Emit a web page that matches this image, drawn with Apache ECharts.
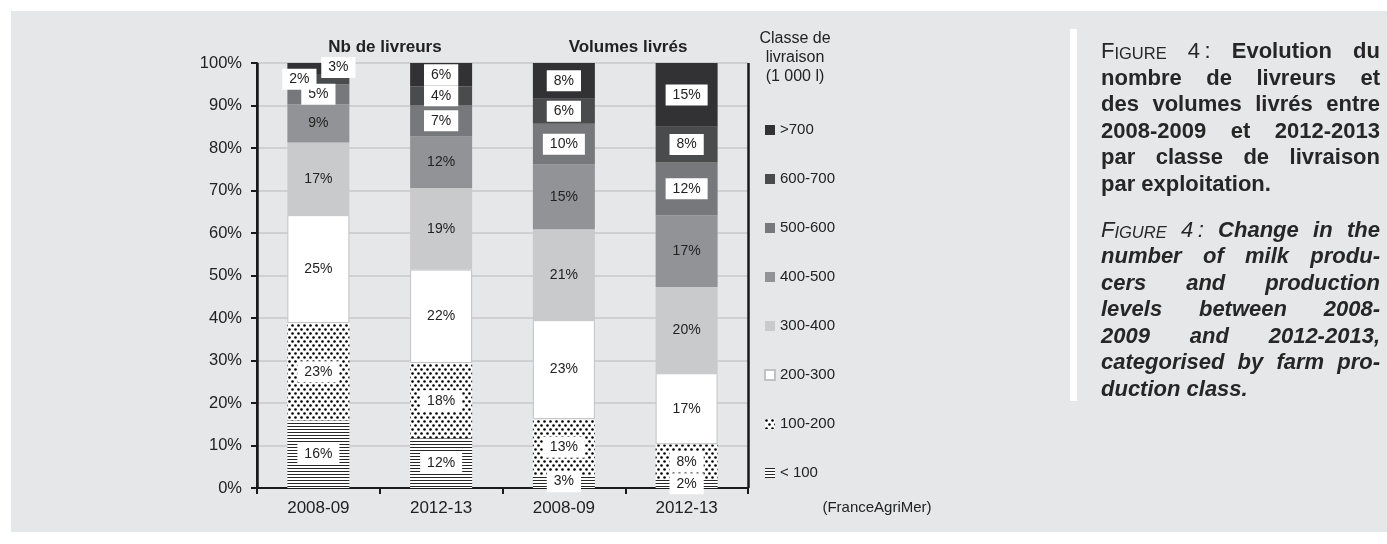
<!DOCTYPE html>
<html><head><meta charset="utf-8">
<script src="https://cdn.jsdelivr.net/npm/echarts@6/dist/echarts.min.js"></script>
<style>html,body{margin:0;padding:0;background:#fff;}#c{width:1387px;height:544px;}</style>
</head><body><div id="c"></div>
<script>
// ---- data ----
const categories = ['2008-09', '2012-13', '2008-09', '2012-13'];
const panelTitles = ['Nb de livreurs', 'Volumes livrés'];
const classes = ['< 100', '100-200', '200-300', '300-400', '400-500', '500-600', '600-700', '>700'];
const lt100    = [15.9, 11.7, 3.0, 2.0];
const c100_200 = [22.9, 17.7, 13.2, 8.3];
const c200_300 = [25.4, 22.0, 23.3, 16.7];
const c300_400 = [17.1, 19.2, 21.4, 20.3];
const c400_500 = [9.0, 12.1, 15.2, 16.9];
const c500_600 = [4.7, 7.4, 9.6, 12.4];
const c600_700 = [2.4, 4.4, 5.9, 8.4];
const gt700    = [2.6, 5.5, 8.4, 15.0];
const legendTitle = ['Classe de', 'livraison', '(1 000 l)'];
const source = '(FranceAgriMer)';

const FF = '"Liberation Sans", Arial, Helvetica, sans-serif';

function stripes() {
  const c = document.createElement('canvas'); c.width = 4; c.height = 3;
  const g = c.getContext('2d');
  g.fillStyle = '#ffffff'; g.fillRect(0, 0, 4, 3);
  g.fillStyle = '#262626'; g.fillRect(0, 0, 4, 1);
  return c;
}
function dots() {
  const c = document.createElement('canvas'); c.width = 6; c.height = 8;
  const g = c.getContext('2d');
  g.fillStyle = '#ffffff'; g.fillRect(0, 0, 6, 8);
  g.fillStyle = '#000000';
  g.beginPath(); g.arc(1.5, 1.5, 1.3, 0, Math.PI * 2); g.fill();
  g.beginPath(); g.arc(4.5, 5.5, 1.3, 0, Math.PI * 2); g.fill();
  return c;
}

const seriesValues = [lt100, c100_200, c200_300, c300_400, c400_500, c500_600, c600_700, gt700];
const fills = [
  { image: stripes(), repeat: 'repeat' },
  { image: dots(), repeat: 'repeat' },
  '#ffffff', '#c9cacc', '#929396', '#77787b', '#4a4b4d', '#323133'
];
const boxed = [true, true, false, false, false, true, true, true];
// label nudges (pixel offsets) for crowded small segments
const labelNudge = { 6: { 0: [-19, 0] }, 7: { 0: [20, -1] } };

const series = classes.map((name, si) => ({
  name, type: 'bar', stack: 'all', barWidth: '50.5%',
  itemStyle: {
    color: fills[si],
    borderColor: si === 2 ? '#c2c2c4' : 'rgba(0,0,0,0)',
    borderWidth: si === 2 ? 1 : 0
  },
  label: {
    show: true, position: 'inside',
    formatter: p => Math.round(p.value) + '%',
    color: '#222', fontSize: 14, fontFamily: FF,
    backgroundColor: boxed[si] ? '#ffffff' : 'transparent',
    padding: boxed[si] ? [4, 7, 3, 7] : 0
  },
  data: seriesValues[si].map((v, ci) => {
    const n = labelNudge[si] && labelNudge[si][ci];
    return n ? { value: v, label: { offset: n } } : v;
  })
}));

const chart = echarts.init(document.getElementById('c'), null, { renderer: 'canvas' });

// caption layout (justified lines)
const capLeft = 1101, capRight = 1380;
const capSize = 22, scSize = 16.5;
const meas = document.createElement('canvas').getContext('2d');
function fontStr(r) { return (r.i ? 'italic ' : '') + (r.b ? 'bold ' : '') + r.s + 'px ' + FF; }
const R = (t, o) => Object.assign({ t, s: capSize, b: false, i: false }, o || {});
const para1 = [
  [[R('F'), R('IGURE', { s: scSize })], [R('4\u2009:')], [R('Evolution', { b: true })], [R('du', { b: true })]],
  'nombre de livreurs et', 'des volumes livrés entre', '2008-2009 et 2012-2013', 'par classe de livraison', 'par exploitation.'
];
const para2 = [
  [[R('F', { i: true }), R('IGURE', { s: scSize, i: true })], [R('4\u2009:', { i: true })], [R('Change', { b: true, i: true })], [R('in', { b: true, i: true })], [R('the', { b: true, i: true })]],
  'number of milk produ-', 'cers and production', 'levels between 2008-', '2009 and 2012-2013,', 'categorised by farm pro-', 'duction class.'
];
const capElems = [];
function layoutPara(lines, startY, pitch, italic) {
  lines.forEach((ln, li) => {
    let words = ln;
    if (typeof ln === 'string') words = ln.split(' ').map(w => [R(w, { b: true, i: italic })]);
    const widths = words.map(w => w.reduce((a, r) => { meas.font = fontStr(r); return a + meas.measureText(r.t).width; }, 0));
    const total = widths.reduce((a, b) => a + b, 0);
    const last = li === lines.length - 1;
    meas.font = fontStr(R(' ', { b: true }));
    const gap = last ? meas.measureText(' ').width : (capRight - capLeft - total) / (words.length - 1);
    let x = capLeft;
    const y = startY + li * pitch;
    words.forEach((w) => {
      w.forEach(r => {
        meas.font = fontStr(r);
        capElems.push({ type: 'text', z: 10, style: { text: r.t, x, y, fill: '#262626', fontSize: r.s, fontWeight: r.b ? 'bold' : 'normal', fontStyle: r.i ? 'italic' : 'normal', fontFamily: FF, verticalAlign: 'bottom' } });
        x += meas.measureText(r.t).width;
      });
      x += gap;
    });
  });
}
const pitch = 26.5;
layoutPara(para1, 63, pitch, false);
layoutPara(para2, 63 + 5 * pitch + 46, pitch, true);

const graphics = [
  { type: 'rect', z: -10, shape: { x: 11, y: 11, width: 1376, height: 521 }, style: { fill: '#e6e7e9' } },
  { type: 'rect', z: -5, shape: { x: 1070, y: 29, width: 7, height: 372 }, style: { fill: '#ffffff' } },
  { type: 'text', style: { text: panelTitles[0], x: 385, y: 47, fontSize: 17, fontWeight: 'bold', fontFamily: FF, fill: '#222', align: 'center', verticalAlign: 'middle' } },
  { type: 'text', style: { text: panelTitles[1], x: 628, y: 47, fontSize: 17, fontWeight: 'bold', fontFamily: FF, fill: '#222', align: 'center', verticalAlign: 'middle' } },
  { type: 'text', style: { text: source, x: 877, y: 508, fontSize: 15, fontFamily: FF, fill: '#222', align: 'center', verticalAlign: 'middle' } }
].concat(legendTitle.map((t, i) => ({ type: 'text', style: { text: t, x: 795, y: 39 + i * 19, fontSize: 16, fontFamily: FF, fill: '#222', align: 'center', verticalAlign: 'middle' } })))
 .concat(capElems);

chart.setOption({
  animation: false,
  backgroundColor: '#ffffff',
  grid: { left: 257, right: 639, top: 63, bottom: 56, containLabel: false },
  legend: {
    orient: 'vertical', left: 764, top: 122, padding: 0,
    itemWidth: 10, itemHeight: 10, itemGap: 33, selectedMode: false,
    icon: 'rect',
    data: classes.slice().reverse(),
    textStyle: { fontSize: 15, color: '#222', fontFamily: FF, lineHeight: 16 }
  },
  xAxis: {
    type: 'category', data: categories,
    axisLine: { lineStyle: { color: '#1a1a1a', width: 2 } },
    axisTick: { show: true, length: 6, lineStyle: { color: '#1a1a1a', width: 2 } },
    axisLabel: { fontSize: 17, color: '#222', fontFamily: FF, margin: 12 },
    splitLine: { show: true, interval: (idx) => idx === 2, lineStyle: { color: '#1a1a1a', width: 2.5 } }
  },
  yAxis: {
    type: 'value', min: 0, max: 100, interval: 10,
    axisLine: { show: true, lineStyle: { color: '#1a1a1a', width: 2 } },
    axisTick: { show: true, length: 6, lineStyle: { color: '#1a1a1a', width: 2 } },
    axisLabel: { formatter: '{value}%', fontSize: 16.5, color: '#222', fontFamily: FF, margin: 15 },
    splitLine: { lineStyle: { color: '#c8c9cb', width: 1.5 } }
  },
  graphic: graphics,
  series
});
</script></body></html>
